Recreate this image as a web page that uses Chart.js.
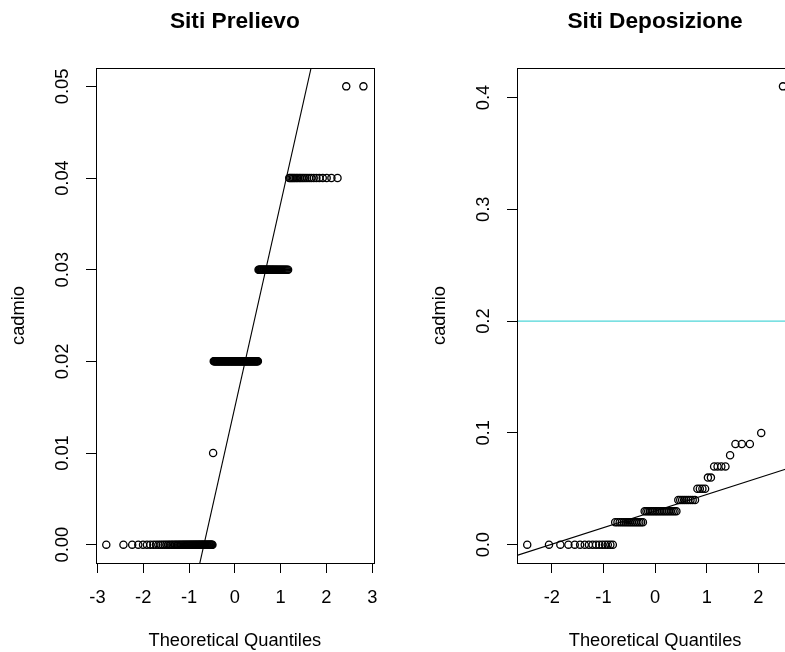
<!DOCTYPE html>
<html>
<head>
<meta charset="utf-8">
<script src="https://cdn.jsdelivr.net/npm/chart.js@4/dist/chart.umd.min.js"></script>
<style>
  html, body { margin: 0; padding: 0; background: #fff; overflow: hidden; width: 785px; height: 652px; }
  canvas { position: absolute; top: 0; }
  #prelievo { left: 0; }
  #deposizione { left: 421px; }
</style>
</head>
<body>
<canvas id="prelievo" width="420" height="652"></canvas>
<canvas id="deposizione" width="420" height="652"></canvas>
<script>
// Cadmium concentrations: distinct measured levels and number of samples at each level
const prelievoLevels = [0, 0.01, 0.02, 0.03, 0.04, 0.05];
const prelievoCounts = [63, 1, 75, 37, 22, 2];
const deposizioneLevels = [0, 0.02, 0.03, 0.04, 0.05, 0.06, 0.07, 0.08, 0.09, 0.1, 0.41];
const deposizioneCounts = [16, 15, 19, 9, 4, 2, 4, 1, 3, 1, 1];

// Axis ticks and labels
const prelievoXTicks = [-3, -2, -1, 0, 1, 2, 3];
const prelievoYTicks = [0, 0.01, 0.02, 0.03, 0.04, 0.05];
const prelievoYLabels = ['0.00', '0.01', '0.02', '0.03', '0.04', '0.05'];
const deposizioneXTicks = [-2, -1, 0, 1, 2];
const deposizioneYTicks = [0, 0.1, 0.2, 0.3, 0.4];
const deposizioneYLabels = ['0.0', '0.1', '0.2', '0.3', '0.4'];

// Reference level drawn across the deposition panel
const deposizioneSoglia = 0.2;

Chart.defaults.font.family = "'Liberation Sans', Arial, sans-serif";
Chart.defaults.color = '#000';

// Inverse of the standard normal CDF (Acklam's rational approximation)
function qnorm(p) {
  const a = [-3.969683028665376e+01, 2.209460984245205e+02, -2.759285104469687e+02, 1.383577518672690e+02, -3.066479806614716e+01, 2.506628277459239e+00];
  const b = [-5.447609879822406e+01, 1.615858368580409e+02, -1.556989798598866e+02, 6.680131188771972e+01, -1.328068155288572e+01];
  const c = [-7.784894002430293e-03, -3.223964580411365e-01, -2.400758277161838e+00, -2.549732539343734e+00, 4.374664141464968e+00, 2.938163982698783e+00];
  const d = [7.784695709041462e-03, 3.224671290700398e-01, 2.445134137142996e+00, 3.754408661907416e+00];
  const pl = 0.02425;
  let q, r;
  if (p < pl) {
    q = Math.sqrt(-2 * Math.log(p));
    return (((((c[0]*q+c[1])*q+c[2])*q+c[3])*q+c[4])*q+c[5]) / ((((d[0]*q+d[1])*q+d[2])*q+d[3])*q+1);
  }
  if (p > 1 - pl) {
    q = Math.sqrt(-2 * Math.log(1 - p));
    return -(((((c[0]*q+c[1])*q+c[2])*q+c[3])*q+c[4])*q+c[5]) / ((((d[0]*q+d[1])*q+d[2])*q+d[3])*q+1);
  }
  q = p - 0.5; r = q * q;
  return (((((a[0]*r+a[1])*r+a[2])*r+a[3])*r+a[4])*r+a[5])*q / (((((b[0]*r+b[1])*r+b[2])*r+b[3])*r+b[4])*r+1);
}

// Plotting positions, as in R's ppoints()
function ppoint(i, n) {
  const a = n <= 10 ? 3 / 8 : 0.5;
  return (i - a) / (n + 1 - 2 * a);
}

// Type-7 sample quantile of a sorted array
function quantile7(sorted, prob) {
  const h = (sorted.length - 1) * prob;
  const lo = Math.floor(h);
  const hi = Math.min(lo + 1, sorted.length - 1);
  return sorted[lo] + (h - lo) * (sorted[hi] - sorted[lo]);
}

function sampleFrom(levels, counts) {
  const out = [];
  levels.forEach((v, k) => { for (let j = 0; j < counts[k]; j++) out.push(v); });
  return out;
}

// Axis range padded by 4% on each side
function padRange(lo, hi) {
  const e = (hi - lo) * 0.04;
  return [lo - e, hi + e];
}

// Frame around the plotting region
const plotBox = {
  id: 'plotBox',
  afterDatasetsDraw(chart) {
    const { ctx, chartArea: a } = chart;
    ctx.save();
    ctx.strokeStyle = '#000';
    ctx.lineWidth = 1;
    ctx.strokeRect(Math.round(a.left) + 0.5, Math.round(a.top) + 0.5,
                   Math.round(a.right - a.left), Math.round(a.bottom - a.top));
    ctx.restore();
  }
};

function qqChart(canvasId, titleText, sample, cfg) {
  const sorted = sample.slice().sort((u, v) => u - v);
  const n = sorted.length;
  const points = sorted.map((y, i) => ({ x: qnorm(ppoint(i + 1, n)), y }));
  const xr = padRange(points[0].x, points[n - 1].x);
  const yr = padRange(sorted[0], sorted[n - 1]);

  // Line through the first and third quartiles
  const x1 = qnorm(0.25), x3 = qnorm(0.75);
  const y1 = quantile7(sorted, 0.25), y3 = quantile7(sorted, 0.75);
  const slope = (y3 - y1) / (x3 - x1);
  const inter = y1 - slope * x1;

  const datasets = [{
    data: [{ x: xr[0], y: inter + slope * xr[0] }, { x: xr[1], y: inter + slope * xr[1] }],
    showLine: true, borderColor: '#000', borderWidth: 1.1, pointRadius: 0, pointHoverRadius: 0
  }];
  if (cfg.hline !== undefined) {
    datasets.push({
      data: [{ x: xr[0], y: cfg.hline }, { x: xr[1], y: cfg.hline }],
      showLine: true, borderColor: '#4fd6d8', borderWidth: 1.2, pointRadius: 0, pointHoverRadius: 0
    });
  }
  datasets.push({
    data: points,
    pointStyle: 'circle', pointRadius: 3.6, borderWidth: 1.3,
    borderColor: '#000', backgroundColor: 'rgba(0,0,0,0)'
  });

  const fontSize = 18.3;
  return new Chart(document.getElementById(canvasId), {
    type: 'scatter',
    data: { datasets },
    plugins: [plotBox],
    options: {
      responsive: false,
      animation: false,
      events: [],
      layout: { padding: { left: 0, top: 0, bottom: 0, right: cfg.rightPad } },
      plugins: {
        legend: { display: false },
        tooltip: { enabled: false },
        title: {
          display: true, text: titleText, fullSize: false, color: '#000',
          font: { size: 22.7, weight: 'bold' }, padding: { top: 8.4, bottom: 32.4 }
        }
      },
      scales: {
        x: {
          type: 'linear', position: 'bottom', min: xr[0], max: xr[1],
          afterBuildTicks: s => { s.ticks = cfg.xTicks.map(v => ({ value: v })); },
          afterFit: s => { s.height = 89; },
          grid: { display: true, drawOnChartArea: false, drawTicks: true, tickLength: 10, color: '#000', lineWidth: 1 },
          border: { display: false },
          ticks: {
            color: '#000', font: { size: fontSize }, padding: 13.5, autoSkip: false,
            minRotation: 0, maxRotation: 0, callback: v => String(v)
          },
          title: { display: true, text: 'Theoretical Quantiles', color: '#000', font: { size: fontSize }, padding: { top: 0, bottom: 0 } }
        },
        y: {
          type: 'linear', position: 'left', min: yr[0], max: yr[1],
          afterBuildTicks: s => { s.ticks = cfg.yTicks.map(v => ({ value: v })); },
          afterFit: s => { s.width = 96; },
          grid: { display: true, drawOnChartArea: false, drawTicks: true, tickLength: 10, color: '#000', lineWidth: 1 },
          border: { display: false },
          ticks: {
            color: '#000', font: { size: fontSize }, padding: cfg.yPad, autoSkip: false,
            minRotation: 90, maxRotation: 90, crossAlign: 'center',
            callback: (v, i) => cfg.yLabels[i]
          },
          title: { display: true, text: 'cadmio', color: '#000', font: { size: fontSize }, padding: { top: 8, bottom: 0 } }
        }
      }
    }
  });
}

qqChart('prelievo', 'Siti Prelievo', sampleFrom(prelievoLevels, prelievoCounts), {
  xTicks: prelievoXTicks, yTicks: prelievoYTicks, yLabels: prelievoYLabels,
  yPad: 5, rightPad: 46.3
});

qqChart('deposizione', 'Siti Deposizione', sampleFrom(deposizioneLevels, deposizioneCounts), {
  xTicks: deposizioneXTicks, yTicks: deposizioneYTicks, yLabels: deposizioneYLabels,
  yPad: 10, rightPad: 47.8, hline: deposizioneSoglia
});
</script>
</body>
</html>
